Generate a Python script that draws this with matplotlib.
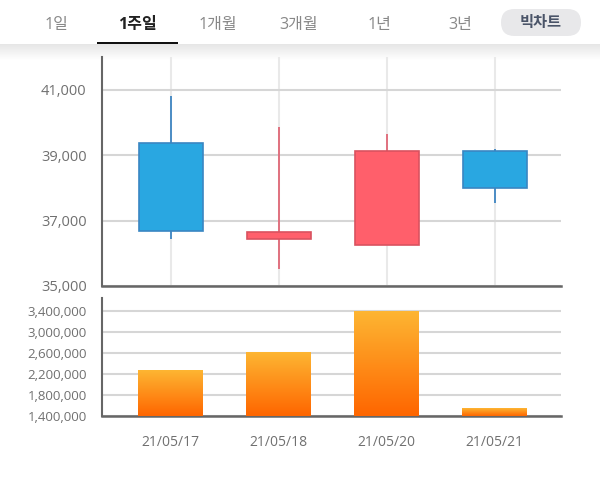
import numpy as np
import matplotlib
matplotlib.use("Agg")
import matplotlib.pyplot as plt
from matplotlib.colors import LinearSegmentedColormap
from matplotlib.patches import FancyBboxPatch, Rectangle
from matplotlib.ticker import StrMethodFormatter

plt.rcParams['font.family'] = ['Open Sans', 'Noto Sans CJK KR', 'DejaVu Sans']

dates = ['21/05/17', '21/05/18', '21/05/20', '21/05/21']
opens = [39377, 36440, 36270, 39130]
closes = [36683, 36650, 39130, 38000]
highs = [40816, 39867, 39650, 39190]
lows = [36440, 35535, 36270, 37555]
volumes = [2268000, 2598000, 3390000, 1540000]

price_ticks = [35000, 37000, 39000, 41000]
volume_ticks = [1400000, 1800000, 2200000, 2600000, 3000000, 3400000]
tabs = ['1일', '1주일', '1개월', '3개월', '1년', '3년']
tab_x = [56, 137, 218, 299, 379, 460]

W, H = 600, 484
TEXT = '#707070'
AXIS = '#666666'
GRID = '#d6d6d6'
VGRID = '#e9e9e9'


def px_axes(fig, left, top, right, bottom):
    return fig.add_axes([left / W, 1 - bottom / H, (right - left) / W, (bottom - top) / H])


fig = plt.figure(figsize=(6, 4.84), dpi=100)

# header
bg = fig.add_axes([0, 0, 1, 1], zorder=0)
shadow = LinearSegmentedColormap.from_list('shadow', ['#e6e6e6', '#ffffff'])
bg.imshow(np.linspace(0, 1, 64).reshape(-1, 1), cmap=shadow, extent=(0, W, 60, 44), aspect='auto')
bg.set_xlim(0, W)
bg.set_ylim(H, 0)
bg.axis('off')
for i, (label, x) in enumerate(zip(tabs, tab_x)):
    bg.text(x, 25.5, label, ha='center', va='center', fontsize=11.5,
            color='#222222' if i == 1 else '#888888', fontweight='bold' if i == 1 else 'normal')
bg.add_patch(Rectangle((97, 41.5), 81, 2.5, color='#111111', lw=0))
bg.add_patch(FancyBboxPatch((514.5, 22.5), 53, 0, boxstyle='round,pad=13.5,rounding_size=13.5',
                            fc='#e8e8ea', ec='none'))
bg.text(541, 23, '빅차트', ha='center', va='center', fontsize=11, color='#4a5468', fontweight='bold')

# candles
ax = px_axes(fig, 102, 57, 560.5, 286)
ax.set_zorder(1)
ax.patch.set_alpha(0)
for i in range(len(dates)):
    up = closes[i] > opens[i]
    fill = '#ff5f6b' if up else '#29a7e1'
    edge = '#d9525f' if up else '#3a86c2'
    wick = '#e0707f' if up else '#4a8cc4'
    ax.vlines(i, lows[i], highs[i], color=wick, lw=1.4, zorder=3)
    ax.bar(i, abs(closes[i] - opens[i]), bottom=min(opens[i], closes[i]), width=0.595,
           color=fill, edgecolor=edge, lw=1.2, zorder=4)
ax.set_xlim(-0.64, 3.61)
ax.set_ylim(35000, 42010)
ax.set_yticks(price_ticks)
ax.set_xticks(range(len(dates)))
ax.set_xticklabels([])
ax.yaxis.set_major_formatter(StrMethodFormatter('{x:,.0f}'))
ax.tick_params(axis='y', length=0, pad=11, labelsize=10.5, labelcolor=TEXT)
ax.tick_params(axis='x', length=0)
ax.grid(axis='y', color=GRID, lw=1.5, zorder=1)
ax.grid(axis='x', color=VGRID, lw=1.5, zorder=1)

# volume
ax2 = px_axes(fig, 102, 298, 560.5, 416)
ax2.set_zorder(1)
ax2.patch.set_alpha(0)
orange = LinearSegmentedColormap.from_list('orange', ['#fdb532', '#ff6600'])
for i, v in enumerate(volumes):
    ax2.imshow(np.linspace(0, 1, 64).reshape(-1, 1), cmap=orange, aspect='auto',
               extent=(i - 0.297, i + 0.297, 1400000, v), zorder=3)
ax2.set_xlim(-0.635, 3.615)
ax2.set_ylim(1400000, 3640000)
ax2.set_yticks(volume_ticks)
ax2.set_xticks(range(len(dates)))
ax2.set_xticklabels(dates)
ax2.yaxis.set_major_formatter(StrMethodFormatter('{x:,.0f}'))
ax2.tick_params(axis='y', length=0, pad=11, labelsize=9.5, labelcolor=TEXT)
ax2.tick_params(axis='x', length=0, pad=14, labelsize=10, labelcolor=TEXT)
ax2.grid(axis='y', color=GRID, lw=1.5, zorder=1)

for a in (ax, ax2):
    a.spines['top'].set_visible(False)
    a.spines['right'].set_visible(False)
    a.spines['left'].set_color(AXIS)
    a.spines['bottom'].set_color(AXIS)
    a.spines['left'].set_linewidth(1.5)
    a.spines['bottom'].set_linewidth(1.8)

fig.savefig('out.png', dpi=100)
